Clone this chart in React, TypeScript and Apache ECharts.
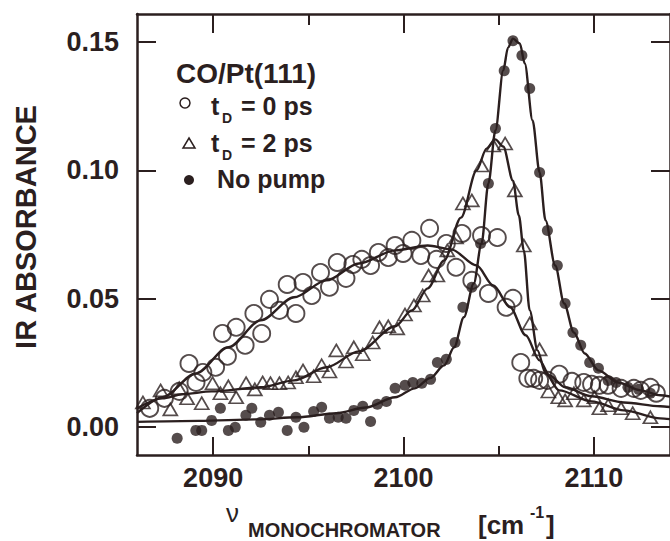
import React, { useEffect, useRef } from "react";
import * as echarts from "echarts";

const INK = "#2b1f1f";
const FONT = '"Liberation Sans", Arial, Helvetica, sans-serif';

const X_MIN = 2086;
const X_MAX = 2114;
const Y_MIN = -0.011;
const Y_MAX = 0.161;
const X_MAJOR = [2090, 2100, 2110];
const X_MINOR = [2095, 2105];
const Y_MAJOR = [0, 0.05, 0.1, 0.15];

// t_D = 0 ps (open circles)
const T0_POINTS = [
  [2086.67, 0.0072], [2087.44, 0.0111], [2088.22, 0.0138], [2088.73, 0.0247], [2089.10, 0.0173],
  [2089.46, 0.0212], [2090.13, 0.0232], [2090.49, 0.0364], [2090.75, 0.0275], [2091.21, 0.0388],
  [2091.68, 0.0318], [2092.14, 0.0442], [2092.55, 0.0364], [2092.96, 0.0497], [2093.48, 0.0454],
  [2093.89, 0.0555], [2094.35, 0.0442], [2094.72, 0.0563], [2095.18, 0.0512], [2095.64, 0.0602],
  [2096.11, 0.0544], [2096.52, 0.0641], [2096.98, 0.0579], [2097.34, 0.0633], [2097.81, 0.0653],
  [2098.27, 0.0629], [2098.68, 0.0680], [2099.20, 0.0660], [2099.56, 0.0707], [2099.98, 0.0676],
  [2100.44, 0.0727], [2100.91, 0.0668], [2101.37, 0.0774], [2101.73, 0.0653], [2102.25, 0.0715],
  [2102.76, 0.0622], [2103.07, 0.0754], [2103.59, 0.0571], [2104.10, 0.0746], [2104.46, 0.0520],
  [2104.93, 0.0738], [2105.39, 0.0466], [2105.75, 0.0501], [2106.16, 0.0251], [2106.53, 0.0189],
  [2106.84, 0.0189], [2107.15, 0.0181], [2107.56, 0.0181], [2108.18, 0.0205], [2108.85, 0.0177],
  [2109.47, 0.0173], [2109.88, 0.0166], [2110.29, 0.0162], [2110.75, 0.0162], [2111.43, 0.0150],
  [2112.10, 0.0150], [2112.46, 0.0142], [2112.97, 0.0154], [2113.28, 0.0131],
];

// t_D = 2 ps (open triangles)
const T2_POINTS = [
  [2086.31, 0.0095], [2087.24, 0.0142], [2087.75, 0.0068], [2088.22, 0.0150], [2088.63, 0.0111],
  [2089.40, 0.0092], [2089.97, 0.0170], [2090.38, 0.0131], [2090.80, 0.0158], [2091.21, 0.0115],
  [2091.73, 0.0170], [2092.19, 0.0146], [2092.60, 0.0173], [2093.01, 0.0170], [2093.48, 0.0170],
  [2093.94, 0.0173], [2094.35, 0.0193], [2094.72, 0.0220], [2095.28, 0.0197], [2095.70, 0.0240],
  [2096.11, 0.0216], [2096.47, 0.0298], [2096.98, 0.0255], [2097.39, 0.0310], [2097.86, 0.0283],
  [2098.38, 0.0329], [2098.74, 0.0388], [2099.20, 0.0392], [2099.67, 0.0384], [2100.08, 0.0438],
  [2100.55, 0.0473], [2101.01, 0.0512], [2101.32, 0.0590], [2101.78, 0.0590], [2102.30, 0.0688],
  [2102.76, 0.0738], [2103.12, 0.0871], [2103.59, 0.0883], [2104.10, 0.1019], [2104.72, 0.1097],
  [2105.34, 0.1105], [2105.85, 0.0922], [2106.32, 0.0707], [2106.63, 0.0403], [2107.15, 0.0302],
  [2107.61, 0.0138], [2108.13, 0.0115], [2108.49, 0.0103], [2108.95, 0.0131], [2109.47, 0.0103],
  [2110.03, 0.0115], [2110.29, 0.0072], [2110.75, 0.0084], [2111.43, 0.0072], [2112.04, 0.0053],
  [2112.97, 0.0037],
];

// No pump (filled circles)
const NOPUMP_POINTS = [
  [2088.11, -0.0045], [2089.09, -0.0014], [2089.40, -0.0014], [2089.92, 0.0025], [2090.38, 0.0072],
  [2090.80, -0.0014], [2091.16, -0.0002], [2091.72, 0.0045], [2092.03, 0.0072], [2092.50, 0.0018],
  [2092.96, 0.0045], [2093.43, 0.0057], [2093.89, -0.0014], [2094.35, 0.0037], [2094.77, -0.0002],
  [2095.28, 0.0060], [2095.70, 0.0076], [2096.11, 0.0033], [2096.57, 0.0037], [2096.98, 0.0033],
  [2097.39, 0.0064], [2097.86, 0.0080], [2098.27, 0.0021], [2098.63, 0.0088], [2099.10, 0.0099],
  [2099.56, 0.0150], [2100.08, 0.0162], [2100.49, 0.0173], [2100.96, 0.0170], [2101.42, 0.0185],
  [2101.78, 0.0251], [2102.25, 0.0263], [2102.71, 0.0329], [2103.12, 0.0466], [2103.59, 0.0544],
  [2104.05, 0.0715], [2104.46, 0.0949], [2104.83, 0.1163], [2105.29, 0.1389], [2105.75, 0.1506],
  [2106.22, 0.1448], [2106.63, 0.1319], [2107.15, 0.0992], [2107.56, 0.0766], [2108.08, 0.0629],
  [2108.49, 0.0481], [2108.90, 0.0368], [2109.31, 0.0318], [2109.78, 0.0251], [2110.24, 0.0228],
  [2110.75, 0.0181], [2111.17, 0.0173], [2111.79, 0.0154], [2112.35, 0.0146], [2112.97, 0.0131],
];

// fitted curves
const T0_FIT = [
  [2086.0, 0.0053], [2087.34, 0.0115], [2089.09, 0.0208], [2090.80, 0.0310], [2092.50, 0.0415],
  [2094.25, 0.0505], [2095.95, 0.0571], [2097.66, 0.0637], [2099.56, 0.0688], [2101.27, 0.0707],
  [2102.50, 0.0692], [2103.84, 0.0629], [2104.72, 0.0551], [2105.60, 0.0466], [2106.42, 0.0357],
  [2107.15, 0.0259], [2107.66, 0.0201], [2108.49, 0.0154], [2109.88, 0.0119], [2111.58, 0.0095],
  [2113.49, 0.0080], [2114.0, 0.0077],
];
const T2_FIT = [
  [2086.0, 0.0072], [2087.34, 0.0111], [2088.37, 0.0127], [2089.92, 0.0138], [2092.50, 0.0154],
  [2094.25, 0.0181], [2095.95, 0.0232], [2097.66, 0.0294], [2099.56, 0.0392], [2100.44, 0.0454],
  [2101.27, 0.0540], [2102.14, 0.0649], [2103.02, 0.0816], [2103.84, 0.1000], [2104.36, 0.1085],
  [2104.82, 0.1121], [2105.24, 0.1093], [2105.75, 0.0960], [2106.06, 0.0824], [2106.32, 0.0688],
  [2106.63, 0.0454], [2107.04, 0.0298], [2107.46, 0.0209], [2108.18, 0.0142], [2109.88, 0.0099],
  [2111.58, 0.0064], [2113.49, 0.0033], [2114.0, 0.0030],
];
const NOPUMP_FIT = [
  [2086.0, 0.0019], [2089.25, 0.0023], [2092.34, 0.0029], [2094.41, 0.0037], [2096.47, 0.0053],
  [2098.02, 0.0075], [2099.56, 0.0115], [2100.60, 0.0150], [2101.40, 0.0190], [2102.14, 0.0240],
  [2102.66, 0.0310], [2103.17, 0.0427], [2103.69, 0.0559], [2104.10, 0.0715], [2104.46, 0.0949],
  [2104.83, 0.1156], [2105.24, 0.1390], [2105.49, 0.1479], [2105.75, 0.1514], [2106.11, 0.1495],
  [2106.37, 0.1417], [2106.78, 0.1195], [2107.15, 0.0992], [2107.46, 0.0805], [2107.97, 0.0629],
  [2108.44, 0.0481], [2108.95, 0.0368], [2109.52, 0.0286], [2110.24, 0.0220], [2111.27, 0.0173],
  [2112.46, 0.0142], [2113.49, 0.0123], [2114.0, 0.0118],
];

const LEGEND_TITLE = "CO/Pt(111)";
const LEGEND_ROWS = ["= 0 ps", "= 2 ps", "No pump"];

function xAxisDef(position: "top" | "bottom", ticks: number[], len: number, showLine: boolean, showLabel: boolean) {
  return {
    type: "value",
    min: X_MIN,
    max: X_MAX,
    position,
    axisLine: { show: showLine, onZero: false, lineStyle: { color: INK, width: 2.5 } },
    axisTick: { show: true, inside: true, length: len, customValues: ticks, lineStyle: { color: INK, width: 2 } },
    axisLabel: {
      show: showLabel,
      customValues: ticks,
      margin: 9,
      color: INK,
      fontFamily: FONT,
      fontWeight: "bold",
      fontSize: 27,
      formatter: (v: number) => String(Math.round(v)),
    },
    splitLine: { show: false },
  };
}

function yAxisDef(position: "left" | "right", showLabel: boolean) {
  return {
    type: "value",
    min: Y_MIN,
    max: Y_MAX,
    position,
    axisLine: { show: true, onZero: false, lineStyle: { color: INK, width: 2.5 } },
    axisTick: { show: true, inside: true, length: 19, customValues: Y_MAJOR, lineStyle: { color: INK, width: 2 } },
    axisLabel: {
      show: showLabel,
      customValues: Y_MAJOR,
      margin: 18,
      color: INK,
      fontFamily: FONT,
      fontWeight: "bold",
      fontSize: 27,
      formatter: (v: number) => v.toFixed(2),
    },
    splitLine: { show: false },
  };
}

export default function App() {
  const ref = useRef<HTMLDivElement>(null);
  useEffect(() => {
    document.body.style.margin = "0";
    const chart = echarts.init(ref.current!, null, { renderer: "svg" });
    const txt = (text: string, x: number, baseline: number, size: number, extra: any = {}) => ({
      type: "text",
      x,
      y: baseline - 0.35 * size,
      style: {
        text,
        fill: INK,
        font: `bold ${size}px ${FONT}`,
        textAlign: "left",
        textVerticalAlign: "middle",
        ...extra,
      },
    });
    chart.setOption({
      animation: false,
      backgroundColor: "#ffffff",
      grid: { left: 137, top: 14, width: 543, height: 441, containLabel: false },
      xAxis: [
        xAxisDef("bottom", X_MAJOR, 18, true, true),
        xAxisDef("bottom", X_MINOR, 9, false, false),
        xAxisDef("top", X_MAJOR, 19, true, false),
        xAxisDef("top", X_MINOR, 11, false, false),
      ],
      yAxis: [yAxisDef("left", true), yAxisDef("right", false)],
      series: [
        {
          type: "line",
          data: T0_FIT,
          showSymbol: false,
          smooth: 0.3,
          smoothMonotone: "x",
          lineStyle: { color: INK, width: 2.4 },
          z: 2,
        },
        {
          type: "line",
          data: T2_FIT,
          showSymbol: false,
          smooth: 0.3,
          smoothMonotone: "x",
          lineStyle: { color: INK, width: 2.4 },
          z: 2,
        },
        {
          type: "line",
          data: NOPUMP_FIT,
          showSymbol: false,
          smooth: 0.3,
          smoothMonotone: "x",
          lineStyle: { color: INK, width: 2.4 },
          z: 2,
        },
        {
          type: "scatter",
          data: T0_POINTS,
          symbol: "circle",
          symbolSize: 17,
          itemStyle: { color: "rgba(0,0,0,0)", borderColor: INK, borderWidth: 1.9 },
          z: 3,
        },
        {
          type: "scatter",
          data: T2_POINTS,
          symbol: "triangle",
          symbolSize: [14, 12],
          itemStyle: { color: "rgba(0,0,0,0)", borderColor: INK, borderWidth: 1.7 },
          z: 3,
        },
        {
          type: "scatter",
          data: NOPUMP_POINTS,
          symbol: "circle",
          symbolSize: 11,
          itemStyle: { color: INK },
          z: 3,
        },
      ],
      graphic: [
        txt(LEGEND_TITLE, 176, 83, 28),
        { type: "circle", shape: { cx: 185, cy: 103, r: 5 }, style: { fill: "none", stroke: INK, lineWidth: 1.5 } },
        txt("t", 211, 115, 25),
        txt("D", 222, 123, 14),
        txt(LEGEND_ROWS[0], 241, 115, 25),
        { type: "polygon", shape: { points: [[189, 138], [195, 148], [183, 148]] }, style: { fill: "none", stroke: INK, lineWidth: 1.5 } },
        txt("t", 211, 152, 25),
        txt("D", 222, 160, 14),
        txt(LEGEND_ROWS[1], 241, 152, 25),
        { type: "circle", shape: { cx: 189, cy: 180, r: 5 }, style: { fill: INK } },
        txt(LEGEND_ROWS[2], 217, 188, 25),
        {
          type: "text",
          x: 26,
          y: 227,
          rotation: Math.PI / 2,
          style: {
            text: "IR ABSORBANCE",
            fill: INK,
            font: `bold 29px ${FONT}`,
            textAlign: "center",
            textVerticalAlign: "middle",
          },
        },
        txt("ν", 226, 522, 26, { font: `${26}px ${FONT}` }),
        txt("MONOCHROMATOR", 248, 537, 20),
        txt("[cm", 478, 534, 26),
        txt("-1", 530, 518, 16),
        txt("]", 546, 534, 26),
      ],
    });
    return () => chart.dispose();
  }, []);
  return <div ref={ref} style={{ width: 670, height: 541, position: "absolute", left: 0, top: 0 }} />;
}
